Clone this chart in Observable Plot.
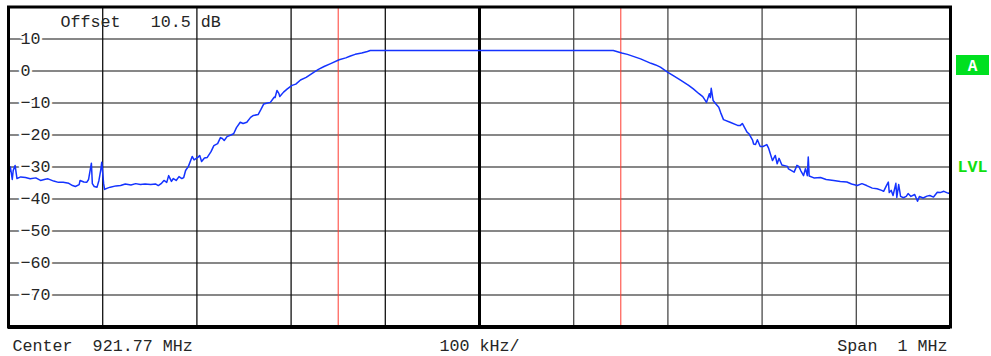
<!DOCTYPE html>
<html>
<head>
<meta charset="utf-8">
<script src="https://cdn.jsdelivr.net/npm/d3@7"></script>
<script src="https://cdn.jsdelivr.net/npm/@observablehq/plot@0.6"></script>
<style>
  html, body { margin: 0; padding: 0; background: #fff; }
  #chart svg text { white-space: pre; }
</style>
</head>
<body>
<div id="chart"></div>
<script>
// Spectrum analyser sweep: offset from the centre frequency (kHz) and level (dB)
const freqKHz = [
  -500,-498,-496,-495,-493,-491,-487,-482,-477,-471,
  -466,-461,-458,-452,-447,-442,-436,-432,-429,-425,
  -424,-420,-417,-415,-412,-411,-409,-406,-404,-402,
  -401,-399,-398,-395,-392,-386,-381,-376,-370,-365,
  -360,-355,-349,-344,-341,-338,-335,-332,-330,-327,
  -325,-322,-319,-316,-314,-312,-309,-305,-303,-299,
  -297,-295,-292,-289,-285,-282,-278,-275,-273,-271,
  -268,-264,-261,-258,-254,-251,-247,-243,-240,-235,
  -232,-229,-225,-222,-218,-217,-215,-213,-212,-208,
  -204,-199,-195,-190,-184,-176,-171,-165,-158,-149,
  -142,-137,-132,-125,-119,-116,142,151,157,164,
  171,182,187,192,200,207,213,222,227,233,
  237,241,244,245,246,248,251,254,256,259,
  266,274,277,279,284,286,290,291,293,295,
  298,301,305,307,311,314,316,318,321,327,
  328,334,337,339,341,344,346,348,349,350,
  355,362,368,376,383,390,395,401,406,411,
  417,422,427,429,432,434,435,437,439,442,
  443,445,447,450,453,455,458,462,465,467,
  471,475,478,482,486,489,493,496,498,500
];
const levelDB = [
  -33.0,-30.0,-33.9,-31.1,-29.5,-33.6,-33.1,-33.3,-33.7,-33.4,
  -34.2,-33.8,-33.7,-34.4,-34.8,-34.8,-35.1,-35.8,-36.1,-35.5,
  -34.2,-34.7,-34.8,-33.9,-28.8,-35.2,-36.1,-36.3,-34.2,-30.8,
  -28.5,-35.2,-37.0,-36.6,-36.3,-35.9,-35.8,-35.3,-35.6,-35.2,
  -35.5,-35.3,-35.5,-35.3,-35.8,-35.2,-34.2,-34.8,-32.7,-34.5,
  -33.6,-34.2,-33.0,-33.6,-33.3,-31.1,-29.8,-26.7,-27.8,-27.0,
  -26.4,-28.3,-27.2,-27.0,-25.2,-23.3,-22.7,-20.8,-21.1,-21.7,
  -20.5,-20.0,-19.6,-17.7,-16.0,-16.4,-16.0,-14.5,-13.9,-13.6,
  -12.0,-10.3,-10.0,-9.8,-8.2,-8.3,-6.1,-7.0,-8.0,-6.6,
  -5.6,-4.5,-4.1,-2.8,-2.0,-0.4,0.5,1.4,2.3,3.5,
  4.1,4.7,5.2,5.6,6.1,6.4,6.4,5.6,5.2,4.5,
  3.8,2.4,1.9,1.2,-0.4,-1.7,-2.8,-4.5,-5.6,-7.1,
  -8.0,-9.8,-7.1,-8.3,-5.4,-9.2,-10.3,-11.3,-13.0,-15.2,
  -16.0,-17.0,-17.0,-16.4,-19.1,-19.6,-21.7,-22.8,-23.0,-21.5,
  -23.6,-23.6,-23.0,-24.2,-28.0,-26.4,-29.0,-27.3,-29.4,-29.8,
  -30.6,-31.6,-29.5,-29.8,-31.1,-32.7,-30.5,-32.7,-26.9,-32.8,
  -33.4,-33.3,-33.9,-34.2,-34.5,-34.7,-35.3,-35.8,-35.2,-35.8,
  -36.6,-36.8,-37.3,-37.6,-35.8,-34.7,-38.0,-37.3,-38.9,-35.1,
  -39.5,-35.5,-39.2,-39.6,-39.2,-38.3,-39.2,-38.6,-40.7,-39.2,
  -39.7,-39.1,-38.9,-39.4,-37.9,-38.0,-37.6,-38.0,-38.2,-38.0
];

// Graticule: level lines every 10 dB, frequency divisions every 100 kHz
const levelTicks = [10, 0, -10, -20, -30, -40, -50, -60, -70];
const levelTickLabels = ["10", "0", "−10", "−20", "−30", "−40", "−50", "−60", "−70"];
const freqDivisions = [-400, -300, -200, -100, 100, 200, 300, 400];
const centerDivision = [0];
const markerKHz = [-150, 150];
const levelMarkerDB = [-30];

const offsetText = "Offset   10.5 dB";
const centerText = "Center  921.77 MHz";
const divisionText = "100 kHz/";
const spanText = "Span  1 MHz";
const traceBadge = "A";
const levelBadge = "LVL";

const trace = freqKHz.map((f, i) => ({f, db: levelDB[i]}));
const tickRows = levelTicks.map((v, i) => ({v, label: levelTickLabels[i]}));

const mono = "'Liberation Mono', 'Courier New', monospace";
const ink = "#262626";
const green = "#10e010";

const chart = Plot.plot({
  width: 991,
  height: 356,
  marginLeft: 8,
  marginRight: 41,
  marginTop: 6.5,
  marginBottom: 29.5,
  x: {domain: [-500, 500], axis: null},
  y: {domain: [-80, 20], axis: null},
  style: {fontFamily: mono, fontSize: "16.7px", background: "#fff", color: ink},
  marks: [
    Plot.ruleY(levelTicks, {stroke: "#111", strokeWidth: 1.2}),
    Plot.ruleX(freqDivisions, {stroke: d => d < 100 ? "#111" : "#4a4a4a", strokeWidth: 1.3}),
    Plot.ruleX(centerDivision, {stroke: "#000", strokeWidth: 3}),
    Plot.ruleX(markerKHz, {stroke: "#ff3b30", strokeWidth: 1}),
    Plot.text(tickRows, {
      x: -500, y: "v", text: "label", textAnchor: "start", dx: 12,
      fill: ink, stroke: "#fff", strokeWidth: 5
    }),
    Plot.line(trace, {x: "f", y: "db", stroke: "#1433ff", strokeWidth: 1.5, strokeLinejoin: "round"}),
    Plot.frame({stroke: "#000", strokeWidth: 3}),
    Plot.ruleY([-80], {stroke: "#000", strokeWidth: 4}),
    Plot.text([offsetText], {frameAnchor: "top-left", lineAnchor: "bottom", dx: 52, dy: 19.5, fill: ink}),
    Plot.text([centerText], {frameAnchor: "bottom-left", lineAnchor: "bottom", textAnchor: "start", dx: 4, dy: 23.5, fill: ink}),
    Plot.text([divisionText], {frameAnchor: "bottom", lineAnchor: "bottom", textAnchor: "middle", dy: 23.5, fill: ink}),
    Plot.text([spanText], {frameAnchor: "bottom-right", lineAnchor: "bottom", textAnchor: "end", dx: -3, dy: 23.5, fill: ink}),
    Plot.text(levelMarkerDB, {
      x: 500, y: d => d, text: () => levelBadge, textAnchor: "start", dx: 7,
      fill: green, fontWeight: "bold"
    })
  ]
});

// Trace indicator badge to the right of the graticule
const xs = chart.scale("x"), ys = chart.scale("y");
const bx = xs.apply(500) + 6, by = ys.apply(20) + 48.5;
const badge = d3.select(chart).append("g");
badge.append("rect")
  .attr("x", bx).attr("y", by).attr("width", 33).attr("height", 20)
  .attr("fill", "#00e020");
badge.append("text")
  .attr("x", bx + 16.5).attr("y", by + 15.5)
  .attr("text-anchor", "middle")
  .attr("fill", "#fff").attr("font-weight", "bold")
  .attr("font-family", mono).attr("font-size", "16px")
  .text(traceBadge);

document.getElementById("chart").append(chart);
</script>
</body>
</html>
